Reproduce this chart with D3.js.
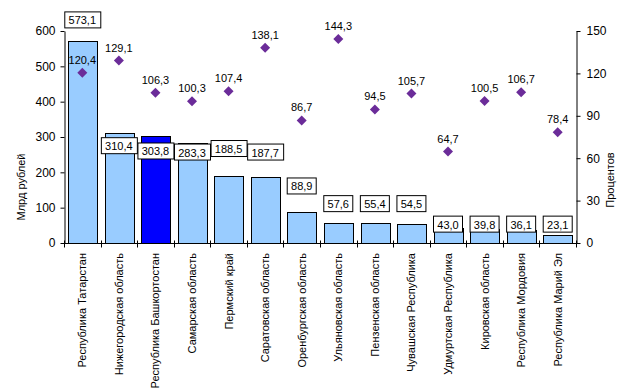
<!DOCTYPE html>
<html>
<head>
<meta charset="utf-8">
<script src="https://cdn.jsdelivr.net/npm/d3@7"></script>
<style>
  body { margin: 0; background: #fff; }
  svg { display: block; font-family: Arial, "Liberation Sans", sans-serif; }
</style>
</head>
<body>
<svg width="624" height="388"></svg>
<script>
// регионы
const regions = [
  "Республика Татарстан", "Нижегородская область", "Республика Башкортостан",
  "Самарская область", "Пермский край", "Саратовская область",
  "Оренбургская область", "Ульяновская область", "Пензенская область",
  "Чувашская Республика", "Удмуртская Республика", "Кировская область",
  "Республика Мордовия", "Республика Марий Эл"
];
// млрд рублей
const values = [573.1, 310.4, 303.8, 283.3, 188.5, 187.7, 88.9, 57.6, 55.4, 54.5, 43.0, 39.8, 36.1, 23.1];
// процентов
const percents = [120.4, 129.1, 106.3, 100.3, 107.4, 138.1, 86.7, 144.3, 94.5, 105.7, 64.7, 100.5, 106.7, 78.4];
// где стоят подписи столбцов (в единицах левой оси)
const labelAt = [630, 274, 259, 256, 266, 256, 160, 110, 110, 110, 52, 52, 52, 52];
const highlight = "Республика Башкортостан";
const leftTicks = [0, 100, 200, 300, 400, 500, 600];
const rightTicks = [0, 30, 60, 90, 120, 150];

const svg = d3.select("svg");
const area = { left: 64, right: 576, top: 31, bottom: 243 };

const fmt = v => v.toFixed(1).replace(".", ",");

const x = d3.scaleBand().domain(regions).range([area.left, area.right]);
const yL = d3.scaleLinear().domain([0, 600]).range([area.bottom, area.top]);
const yR = d3.scaleLinear().domain([0, 150]).range([area.bottom, area.top]);
const barW = x.bandwidth() * 0.78;

// столбцы
svg.selectAll(".bar")
  .data(regions)
  .enter()
  .append("rect")
  .attr("class", "bar")
  .attr("x", d => Math.round(x(d) + (x.bandwidth() - barW) / 2) + 0.5)
  .attr("y", (d, i) => Math.round(yL(values[i])) + 0.5)
  .attr("width", Math.round(barW))
  .attr("height", (d, i) => Math.round(yL(0)) - Math.round(yL(values[i])))
  .style("fill", d => d === highlight ? "#0000FF" : "#99CCFF")
  .style("stroke", "#000")
  .style("stroke-width", 1);

// оси
const axisL = svg.append("g")
  .attr("transform", `translate(${area.left + 0.5},0)`)
  .call(d3.axisLeft(yL).tickValues(leftTicks).tickSize(4).tickSizeOuter(0).tickPadding(5));
const axisR = svg.append("g")
  .attr("transform", `translate(${area.right + 0.5},0)`)
  .call(d3.axisRight(yR).tickValues(rightTicks).tickSize(4).tickSizeOuter(0).tickPadding(6));
[axisL, axisR].forEach(a => {
  a.selectAll("text").style("font-size", "12px").style("fill", "#000").style("font-family", "Arial, 'Liberation Sans', sans-serif");
  a.selectAll("line, path").style("stroke", "#000");
});

// нижняя ось
const yb = Math.round(yL(0)) + 0.5;
svg.append("line")
  .attr("x1", area.left).attr("x2", area.right + 1)
  .attr("y1", yb).attr("y2", yb)
  .style("stroke", "#000");
const bounds = regions.map(d => x(d)).concat([x.range()[1]]);
svg.selectAll(".xtick")
  .data(bounds)
  .enter()
  .append("line")
  .attr("x1", d => Math.round(d) + 0.5).attr("x2", d => Math.round(d) + 0.5)
  .attr("y1", yb - 3).attr("y2", yb + 4)
  .style("stroke", "#000");

svg.selectAll(".xlabel")
  .data(regions)
  .enter()
  .append("text")
  .attr("transform", d => `translate(${x(d) + x.bandwidth() / 2 + 4},253) rotate(-90)`)
  .attr("text-anchor", "end")
  .style("font-size", "11px")
  .text(d => d);

// подписи столбцов в рамках
const lab = svg.selectAll(".vlabel")
  .data(regions)
  .enter()
  .append("g")
  .attr("transform", (d, i) => `translate(${x(d) + x.bandwidth() / 2},${yL(labelAt[i])})`);
lab.append("text")
  .attr("text-anchor", "middle")
  .attr("y", 4)
  .style("font-size", "11px")
  .text((d, i) => fmt(values[i]));
lab.each(function() {
  const g = d3.select(this);
  const bb = g.select("text").node().getBBox();
  g.insert("rect", "text")
    .attr("x", Math.round(bb.x - 4) + 0.5)
    .attr("y", -8.5)
    .attr("width", Math.round(bb.width + 8))
    .attr("height", 16)
    .style("fill", "#fff")
    .style("stroke", "#000");
});

// ромбы
svg.selectAll(".pt")
  .data(regions)
  .enter()
  .append("path")
  .attr("d", d3.symbol(d3.symbolSquare, 50))
  .attr("transform", (d, i) => `translate(${x(d) + x.bandwidth() / 2},${yR(percents[i])}) rotate(45)`)
  .style("fill", "#6B2C99");

svg.selectAll(".plabel")
  .data(regions)
  .enter()
  .append("text")
  .attr("x", d => x(d) + x.bandwidth() / 2)
  .attr("y", (d, i) => yR(percents[i]) - 9)
  .attr("text-anchor", "middle")
  .style("font-size", "11px")
  .text((d, i) => fmt(percents[i]));

// названия осей
svg.append("text")
  .attr("transform", "translate(22,187) rotate(-90)")
  .attr("text-anchor", "middle")
  .attr("dominant-baseline", "middle")
  .style("font-size", "11px")
  .text("Млрд рублей");
svg.append("text")
  .attr("transform", "translate(611,180) rotate(-90)")
  .attr("text-anchor", "middle")
  .attr("dominant-baseline", "middle")
  .style("font-size", "11px")
  .text("Процентов");
</script>
</body>
</html>
